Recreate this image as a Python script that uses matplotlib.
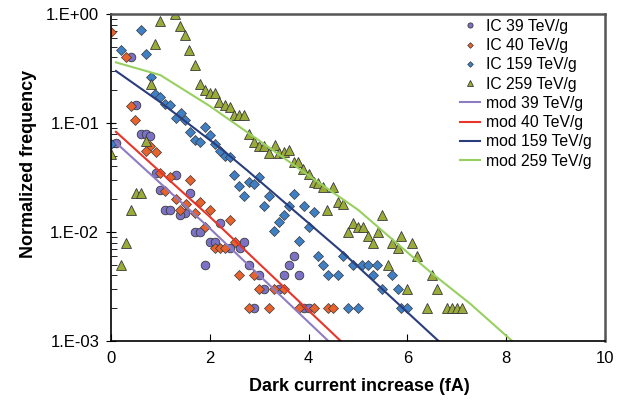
import numpy as np
import matplotlib
matplotlib.use("Agg")
import matplotlib.pyplot as plt

plt.rcParams['font.family'] = ['Liberation Sans', 'DejaVu Sans']

# measured data (x in fA, y normalized frequency)
ic39_x = [0.1, 0.41, 0.51, 0.61, 0.71, 0.79, 0.91, 1.32, 1.0, 1.6, 1.1, 1.2, 1.5, 1.4,
          1.7, 1.8, 2.0, 2.1, 1.91, 2.21, 2.41, 2.61, 2.7, 2.8, 3.0, 3.7, 3.6, 3.5, 3.8,
          3.1, 3.4, 2.9, 3.91, 4.01]
ic39_y = [0.066, 0.40, 0.146, 0.079, 0.079, 0.076, 0.035, 0.033, 0.0243, 0.023, 0.016, 0.016,
          0.015, 0.0142, 0.0101, 0.0101, 0.0081, 0.0081, 0.005, 0.0122, 0.0071, 0.0071, 0.0081,
          0.005, 0.004, 0.006, 0.005, 0.004, 0.004, 0.003, 0.003, 0.002, 0.002, 0.002]

ic40_x = [0.0, 0.31, 0.4, 0.49, 0.79, 0.7, 0.91, 0.99, 1.19, 1.6, 1.1, 1.31, 1.51, 1.8, 2.0,
          1.4, 1.71, 1.9, 2.1, 2.21, 2.31, 2.41, 2.51, 2.6, 2.9, 3.0, 3.3, 3.5, 2.8, 3.2,
          3.8, 4.1, 4.4, 4.5]
ic40_y = [0.68, 0.40, 0.143, 0.107, 0.0615, 0.0553, 0.054, 0.035, 0.032, 0.030, 0.024, 0.020,
          0.018, 0.019, 0.016, 0.016, 0.015, 0.0112, 0.0071, 0.0071, 0.0071, 0.013, 0.0081,
          0.004, 0.004, 0.003, 0.003, 0.003, 0.002, 0.002, 0.002, 0.002, 0.002, 0.002]

ic159_x = [0.0, 0.2, 0.6, 0.7, 0.8, 0.9, 0.99, 1.1, 1.2, 1.42, 1.31, 1.5, 1.6, 1.91, 1.71,
           1.81, 2.0, 2.1, 2.21, 2.3, 2.41, 2.49, 3.0, 2.8, 2.9, 2.6, 2.7, 3.2, 3.71, 3.1,
           3.6, 3.91, 4.11, 3.5, 3.4, 4.0, 3.3, 3.8, 4.2, 4.3, 4.4, 4.6, 4.7, 4.89, 5.09,
           5.2, 5.39, 5.3, 5.69, 5.49, 5.8, 4.8, 4.99, 5.88, 6.0]
ic159_y = [0.064, 0.47, 0.71, 0.43, 0.264, 0.186, 0.174, 0.149, 0.146, 0.123, 0.11, 0.107,
           0.082, 0.092, 0.07, 0.067, 0.078, 0.064, 0.0557, 0.050, 0.049, 0.033, 0.032,
           0.0289, 0.0274, 0.0264, 0.0214, 0.0214, 0.0223, 0.0174, 0.0174, 0.0174, 0.0151,
           0.0143, 0.0123, 0.0112, 0.0102, 0.0082, 0.006, 0.005, 0.004, 0.004, 0.006, 0.005,
           0.005, 0.005, 0.005, 0.004, 0.004, 0.003, 0.003, 0.002, 0.002, 0.002, 0.002]

ic259_x = [0.0, 0.2, 0.3, 0.4, 0.5, 0.6, 0.7, 0.8, 0.9, 1.0, 1.3, 1.4, 1.49, 1.58, 1.7, 1.8,
           1.9, 2.0, 2.1, 2.19, 2.3, 2.41, 2.49, 2.6, 2.7, 2.79, 2.89, 3.0, 3.1, 3.2, 3.31,
           3.4, 3.5, 3.6, 3.7, 3.79, 3.89, 4.0, 4.1, 4.2, 4.3, 4.5, 4.38, 4.6, 4.7, 5.49,
           4.89, 5.01, 5.11, 4.8, 5.21, 5.31, 5.4, 5.69, 5.8, 5.88, 6.1, 6.2, 5.6, 6.5, 6.0,
           6.59, 6.39, 6.8, 6.9, 7.0, 7.1]
ic259_y = [0.052, 0.005, 0.008, 0.016, 0.023, 0.023, 0.068, 0.226, 0.53, 0.86, 1.0, 0.78,
           0.64, 0.47, 0.34, 0.228, 0.20, 0.187, 0.187, 0.156, 0.147, 0.141, 0.118, 0.118,
           0.118, 0.079, 0.067, 0.061, 0.061, 0.053, 0.063, 0.053, 0.0545, 0.0565, 0.044,
           0.044, 0.038, 0.034, 0.029, 0.028, 0.0257, 0.026, 0.016, 0.019, 0.018, 0.0143,
           0.0122, 0.0112, 0.0112, 0.0101, 0.0091, 0.008, 0.0101, 0.008, 0.0071, 0.0092,
           0.008, 0.006, 0.005, 0.004, 0.003, 0.003, 0.002, 0.002, 0.002, 0.002, 0.002]

# model curves
mod39_x = [0.1, 2.0, 4.4]
mod39_y = [0.066, 0.0108, 0.001]
mod40_x = [0.1, 2.0, 4.65]
mod40_y = [0.083, 0.0138, 0.001]
mod159_x = [0.1, 1.0, 2.21, 2.75, 4.64, 6.63]
mod159_y = [0.30, 0.155, 0.059, 0.037, 0.0068, 0.001]
mod259_x = [0.1, 1.0, 2.0, 3.0, 4.13, 5.0, 6.0, 6.49, 7.27, 8.12]
mod259_y = [0.36, 0.275, 0.143, 0.069, 0.030, 0.016, 0.0065, 0.0042, 0.0022, 0.001]

fig = plt.figure(figsize=(6.31, 4.01), dpi=100)
ax = fig.add_axes([0.1759, 0.1496, 0.7829, 0.8155])

edge = '#3a3a3a'
ax.plot(ic39_x, ic39_y, 'o', ms=6.2, mfc='#7b72c6', mec=edge, mew=0.6, label='IC 39 TeV/g')
ax.plot(ic40_x, ic40_y, 'D', ms=4.8, mfc='#e8622c', mec=edge, mew=0.5, label='IC 40 TeV/g')
ax.plot(ic159_x, ic159_y, 'D', ms=4.8, mfc='#3f7fc4', mec=edge, mew=0.5, label='IC 159 TeV/g')
ax.plot(ic259_x, ic259_y, '^', ms=6.8, mfc='#9aab3a', mec=edge, mew=0.6, label='IC 259 TeV/g')

ax.plot(mod39_x, mod39_y, '-', color='#8e7cc3', lw=1.5, label='mod 39 TeV/g')
ax.plot(mod40_x, mod40_y, '-', color='#e8352a', lw=1.5, label='mod 40 TeV/g')
ax.plot(mod159_x, mod159_y, '-', color='#2a3d7c', lw=1.5, label='mod 159 TeV/g')
ax.plot(mod259_x, mod259_y, '-', color='#98d060', lw=1.5, label='mod 259 TeV/g')

ax.set_yscale('log')
ax.set_xlim(0, 10)
ax.set_ylim(1e-3, 1)
ax.set_xticks([0, 2, 4, 6, 8, 10])
ax.set_yticks([1e-3, 1e-2, 1e-1, 1])
ax.set_yticklabels(['1.E-03', '1.E-02', '1.E-01', '1.E+00'])
ax.tick_params(axis='x', direction='in', length=5, labelsize=12, pad=7)
ax.tick_params(axis='y', which='major', direction='inout', length=7, labelsize=12, pad=5)
ax.tick_params(axis='y', which='minor', direction='in', length=4)

for s in ['top', 'right']:
    ax.spines[s].set_color('#555555')
    ax.spines[s].set_linewidth(1.8)
for s in ['left', 'bottom']:
    ax.spines[s].set_color('black')
    ax.spines[s].set_linewidth(1.2)

ax.set_xlabel('Dark current increase (fA)', fontsize=13, fontweight='bold')
ax.set_ylabel('Normalized frequency', fontsize=13, fontweight='bold')
ax.xaxis.set_label_coords(0.502, -0.112)
ax.yaxis.set_label_coords(-0.15, 0.54)

ax.legend(loc='upper left', bbox_to_anchor=(0.7065, 0.985), frameon=False, fontsize=11.3,
          borderpad=0, borderaxespad=0, labelspacing=0.27, handlelength=1.25,
          handletextpad=0.4, markerscale=0.6)

fig.savefig('out.png', dpi=100)
